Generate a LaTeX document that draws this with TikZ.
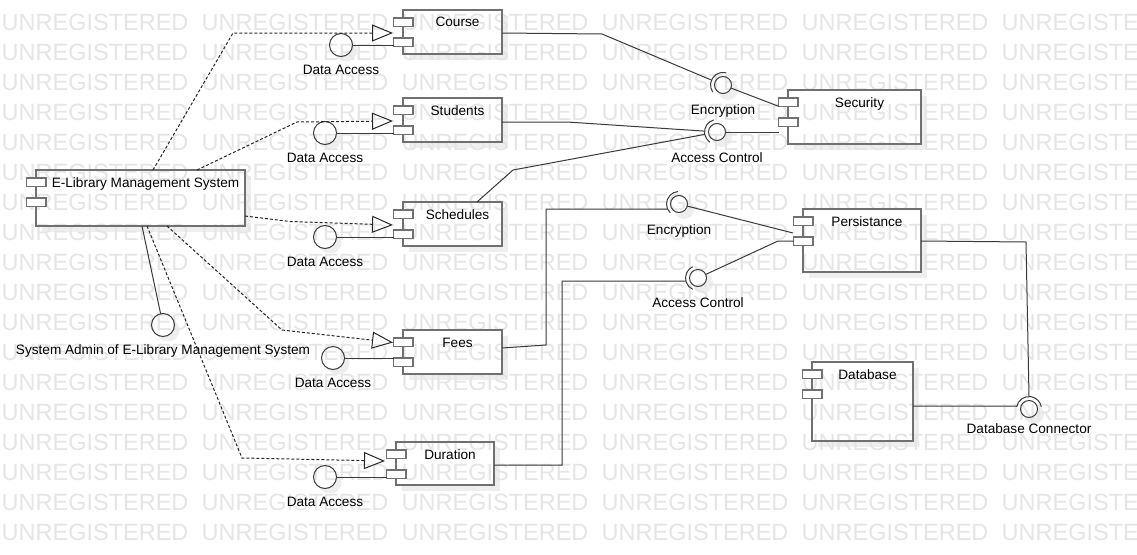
\documentclass[tikz,border=0pt]{standalone}
\usepackage{fontspec}
\setmainfont{Liberation Sans}
\usetikzlibrary{arrows.meta,calc}
\pgfdeclarelayer{bg}
\pgfdeclarelayer{wm}
\pgfsetlayers{bg,wm,main}
\definecolor{boxgray}{HTML}{707070}
\definecolor{linecol}{HTML}{3A3A3A}
\definecolor{shadowcol}{HTML}{EEEEEE}
\tikzset{
  lbl/.style={font=\fontsize{13.6}{16}\selectfont, inner sep=0pt, text=black},
  compbox/.style={draw=boxgray, line width=1.5pt, inner sep=0pt, outer sep=0pt},
  portbox/.style={draw=boxgray, line width=1.5pt, fill=white, inner sep=0pt, outer sep=0pt, minimum width=19.5pt, minimum height=8.5pt},
  conn/.style={draw=linecol, line width=1pt},
  depline/.style={draw=black!85, line width=1pt, dash pattern=on 3pt off 2pt, -{Triangle[open, length=21pt, width=17pt, line width=1pt]}},
  ifball/.style={circle, draw=linecol, line width=1pt, minimum size=23pt, inner sep=0pt, outer sep=0pt},
  sockball/.style={circle, draw=linecol, line width=1pt, minimum size=17pt, inner sep=0pt, outer sep=0pt},
  wmtext/.style={font=\fontsize{23.5}{26}\selectfont, text=black!10, inner sep=0pt, anchor=base west},
}
% name, x, y, w, h, title
\newcommand\comp[6]{%
  \begin{pgfonlayer}{bg}
    \fill[shadowcol] (#2+6,#3+6) rectangle ++(#4,#5);
    \fill[white] (#2,#3) rectangle ++(#4,#5);
  \end{pgfonlayer}
  \node[compbox, minimum width=#4pt, minimum height=#5pt, anchor=north west] (#1) at (#2,#3) {};
  \node[portbox, anchor=north west] (#1-p1) at ($(#1.north west)+(-9.5,7.75)$) {};
  \node[portbox, anchor=north west] (#1-p2) at ($(#1.north west)+(-9.5,27.75)$) {};
  \node[lbl, anchor=base] (#1-t) at ($(#1.north)+(5,17)$) {#6};
}
% name, x, y, label
\newcommand\lolli[4]{%
  \begin{pgfonlayer}{bg}
    \fill[shadowcol] (#2+5,#3+5) circle[radius=11.5];
    \fill[white] (#2,#3) circle[radius=11.5];
  \end{pgfonlayer}
  \node[ifball] (#1) at (#2,#3) {};
  \node[lbl, anchor=base] (#1-l) at (#2,#3+29) {#4};
}
% name, x, y, arc start, arc end, label, label dy
\newcommand\sock[7]{%
  \begin{pgfonlayer}{bg}
    \fill[shadowcol] (#2+5,#3+5) circle[radius=10];
    \fill[white] (#2,#3) circle[radius=8.5];
  \end{pgfonlayer}
  \node[sockball] (#1) at (#2,#3) {};
  \draw[conn] ($(#1)+(#4:12.5)$) arc[start angle=#4, end angle=#5, radius=12.5];
  \node[lbl, anchor=base] (#1-l) at (#2,#3+#7) {#6};
}
\begin{document}
\begin{tikzpicture}[x=1pt,y=-1pt]
\useasboundingbox (0,0) rectangle (1137,554);
\begin{pgfonlayer}{bg}
  \fill[white] (0,0) rectangle (1137,554);
\end{pgfonlayer}
\begin{pgfonlayer}{wm}
  \begin{scope}
    \clip (0,0) rectangle (1137,554);
    \foreach \j in {0,...,17}{\foreach \i in {0,...,5}{
      \node[wmtext] (wm-\i-\j) at (1.5+200*\i,30.7+30*\j) {UNREGISTERED};}}
  \end{scope}
\end{pgfonlayer}

% components
\comp{course}{403}{10}{99}{44}{Course}
\comp{students}{403}{98}{99}{44}{Students}
\comp{schedules}{403}{202}{99}{44}{Schedules}
\comp{fees}{403}{330}{99}{44}{Fees}
\comp{duration}{396}{442}{98}{43}{Duration}
\comp{elib}{36}{170}{209}{56}{E-Library Management System}
\comp{security}{788}{90}{133}{54}{Security}
\comp{persist}{803}{209}{118}{63}{Persistance}
\comp{database}{812}{362}{101}{79}{Database}

% provided interfaces
\lolli{da1}{341}{45}{Data Access}
\lolli{da2}{325}{133}{Data Access}
\lolli{da3}{325}{237}{Data Access}
\lolli{da4}{333}{358}{Data Access}
\lolli{da5}{325}{477}{Data Access}
\lolli{sa}{163}{325}{System Admin of E-Library Management System}

\draw[conn] (da1.east) -- (da1.east -| course-p2.west);
\draw[conn] (da2.east) -- (da2.east -| students-p2.west);
\draw[conn] (da3.east) -- (da3.east -| schedules-p2.west);
\draw[conn] (da4.east) -- (da4.east -| fees-p2.west);
\draw[conn] (da5.east) -- (da5.east -| duration-p2.west);
\draw[conn] ($(elib.south west)+(106,0)$) -- (sa);

% dependencies
\draw[depline] ($(elib.north west)+(117,0)$) -- (233,33) -- ($(course.north west)+(-10,23)$);
\draw[depline] ($(elib.north west)+(161,0)$) -- (297,122) -- ($(students.north west)+(-10,23)$);
\draw[depline] ($(elib.north east)+(0,46)$) -- (290,221.5) -- ($(schedules.north west)+(-10,23)$);
\draw[depline] ($(elib.south west)+(131,0)$) -- (282,330) -- ($(fees.north west)+(-10,12.5)$);
\draw[depline] ($(elib.south west)+(111,0)$) -- (242,458) -- ($(duration.north west)+(-11,19)$);

% ball and socket interfaces
\sock{enc1}{723}{85}{145}{285}{Encryption}{29.5}
\sock{ac1}{717}{132}{125}{255}{Access Control}{30}
\sock{enc2}{679}{204}{135}{265}{Encryption}{30}
\sock{ac2}{698}{278}{115}{245}{Access Control}{29}
\sock{dbc}{1029}{409}{190}{350}{Database Connector}{24.5}

\draw[conn] ($(course.north east)+(0,23)$) -- (602,34) -- ($(enc1)+(203:12.5)$);
\draw[conn] (enc1) -- (security-p1.south west);
\draw[conn] ($(students.north east)+(0,24)$) -- (567,122) -- ($(ac1)+(184:12.5)$);
\draw[conn] ($(schedules.north west)+(74,0)$) -- (513,170) -- ($(ac1)+(169:12.5)$);
\draw[conn] (ac1.east) -- (ac1.east -| security-p2.west);
\draw[conn] ($(fees.north east)+(0,18)$) -- (546,345) -- (546,209) -- ($(enc2)+(156:12.5)$);
\draw[conn] (enc2) -- ($(persist.north west)+(-10,24)$);
\draw[conn] ($(duration.north east)+(0,23)$) -- (562,465) -- (562,281) -- ($(ac2)+(166:12.5)$);
\draw[conn] (ac2) -- (778,241) -- (persist-p2.west);
\draw[conn] ($(persist.north east)+(0,32)$) -- (1026,242) -- ($(dbc)+(270:12.5)$);
\draw[conn] ($(database.north east)+(0,44)$) -- ($(dbc)+(193.9:12.5)$);
\end{tikzpicture}
\end{document}
